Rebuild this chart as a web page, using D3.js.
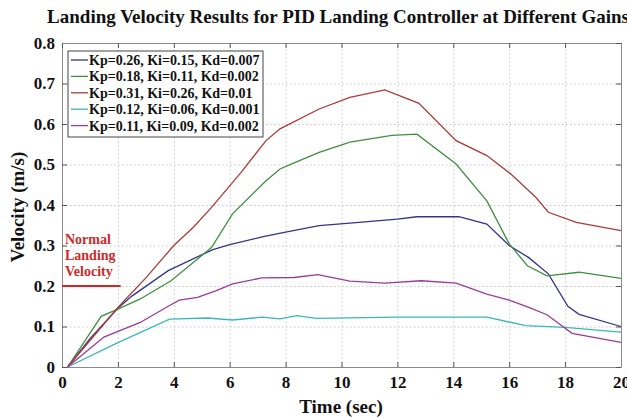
<!DOCTYPE html>
<meta charset="utf-8">
<script src="https://d3js.org/d3.v7.min.js"></script>
<style>
body { margin: 0; background: #fff; }
text { font-family: "Liberation Serif", "Times New Roman", serif; font-weight: bold; }
.grid line { stroke: #c8c8c8; stroke-dasharray: 1.5 2.5; }
.grid path { display: none; }
.axis path { stroke: #8a8a8a; }
.axis line { stroke: #555; }
.axis text { font-size: 17px; fill: #111; }
</style>
<body></body>
<script>
// series labels and colours
var labels = [
  "Kp=0.26, Ki=0.15, Kd=0.007",
  "Kp=0.18, Ki=0.11, Kd=0.002",
  "Kp=0.31, Ki=0.26, Kd=0.01",
  "Kp=0.12, Ki=0.06, Kd=0.001",
  "Kp=0.11, Ki=0.09, Kd=0.002"
];
var colors = ["#34348a", "#3f8f3f", "#ad3a3a", "#3ab8b8", "#9b3a9b"];

// time (sec) / velocity (m/s)
var tBlue = [0.2, 1, 2, 2.5, 3.8, 5.4, 6, 7.2, 8, 9.2, 10.3, 12, 12.7, 14.2, 15.2, 16, 16.7, 17.4, 18.1, 18.5, 20];
var vBlue = [0, 0.07, 0.145, 0.175, 0.238, 0.29, 0.302, 0.322, 0.333, 0.349, 0.355, 0.365, 0.371, 0.371, 0.353, 0.30, 0.27, 0.23, 0.15, 0.13, 0.1];

var tGreen = [0.2, 1.4, 2, 2.8, 3.9, 5.35, 6.1, 7.3, 7.8, 8.2, 9.2, 10.3, 11.8, 12.7, 14.1, 15.2, 16, 16.65, 17.35, 18.5, 20];
var vGreen = [0, 0.125, 0.143, 0.168, 0.213, 0.295, 0.378, 0.46, 0.489, 0.501, 0.53, 0.555, 0.572, 0.575, 0.501, 0.41, 0.304, 0.25, 0.225, 0.234, 0.219];

var tRed = [0.2, 2, 3, 4, 4.7, 5.35, 6.4, 7.3, 7.8, 9.2, 10.3, 11.55, 12.77, 14.1, 15.2, 16.05, 16.95, 17.4, 18.4, 20];
var vRed = [0, 0.147, 0.22, 0.30, 0.345, 0.394, 0.48, 0.559, 0.588, 0.637, 0.666, 0.684, 0.651, 0.559, 0.522, 0.477, 0.419, 0.382, 0.357, 0.337];

var tCyan = [0.2, 2, 3.85, 5.2, 6.1, 7.15, 7.8, 8.4, 9.1, 12, 15.2, 16.6, 18, 20];
var vCyan = [0, 0.06, 0.118, 0.121, 0.116, 0.123, 0.119, 0.127, 0.12, 0.123, 0.123, 0.102, 0.098, 0.086];

var tPurple = [0.2, 1.5, 2.8, 3.8, 4.2, 4.85, 5.5, 6.1, 7.15, 8.3, 9.15, 10.3, 11.55, 12.85, 14.1, 15.2, 16, 16.7, 17.35, 18.25, 20];
var vPurple = [0, 0.074, 0.11, 0.15, 0.165, 0.172, 0.188, 0.205, 0.22, 0.221, 0.228, 0.212, 0.207, 0.213, 0.207, 0.18, 0.165, 0.147, 0.129, 0.083, 0.061];

var xTicks = [0, 2, 4, 6, 8, 10, 12, 14, 16, 18, 20];
var yTicks = [0, 0.1, 0.2, 0.3, 0.4, 0.5, 0.6, 0.7, 0.8];
var normalVelocity = 0.2;

var times = [tBlue, tGreen, tRed, tCyan, tPurple];
var vels = [vBlue, vGreen, vRed, vCyan, vPurple];

var series = labels.map(function(l, i) {
  return { label: l, color: colors[i],
    values: times[i].map(function(t, j) { return { t: t, v: vels[i][j] }; }) };
});

var W = 627, H = 417;
var margin = {top: 43, right: 6, bottom: 50, left: 62};
var width = W - margin.left - margin.right,
    height = H - margin.top - margin.bottom;

var root = d3.select("body").append("svg")
    .attr("width", W)
    .attr("height", H);

var svg = root.append("g")
    .attr("transform", "translate(" + margin.left + "," + margin.top + ")");

var x = d3.scaleLinear().domain([0, 20]).range([0, width]);
var y = d3.scaleLinear().domain([0, 0.8]).range([height, 0]);

// gridlines
svg.append("g").attr("class", "grid")
    .attr("transform", "translate(0," + height + ")")
    .call(d3.axisBottom(x).tickValues(xTicks.slice(1, -1)).tickSize(-height).tickFormat(""));
svg.append("g").attr("class", "grid")
    .call(d3.axisLeft(y).tickValues(yTicks.slice(1, -1)).tickSize(-width).tickFormat(""));

// frame with inward ticks
svg.append("g").attr("class", "axis")
    .attr("transform", "translate(0," + height + ")")
    .call(d3.axisBottom(x).tickValues(xTicks).tickSizeInner(-5).tickSizeOuter(0).tickPadding(9).tickFormat(d3.format("d")));
svg.append("g").attr("class", "axis")
    .call(d3.axisLeft(y).tickValues(yTicks).tickSizeInner(-5).tickSizeOuter(0).tickPadding(7).tickFormat(function(d) { return d === 0 ? "0" : d3.format(".1f")(d); }));
svg.append("g").attr("class", "axis")
    .call(d3.axisTop(x).tickValues(xTicks).tickSizeInner(-5).tickSizeOuter(0).tickFormat(""));
svg.append("g").attr("class", "axis")
    .attr("transform", "translate(" + width + ",0)")
    .call(d3.axisRight(y).tickValues(yTicks).tickSizeInner(-5).tickSizeOuter(0).tickFormat(""));

// normal landing velocity marker
svg.append("line")
    .attr("x1", x(0)).attr("x2", x(2.1))
    .attr("y1", y(normalVelocity)).attr("y2", y(normalVelocity))
    .attr("stroke", "#dd2020").attr("stroke-width", 2);
svg.append("text")
    .attr("x", 3).attr("y", y(normalVelocity) - 42)
    .style("font-size", "14px").style("fill", "#cc2a2a")
    .selectAll("tspan").data(["Normal", "Landing", "Velocity"]).enter().append("tspan")
    .attr("x", 3).attr("dy", function(d, i) { return i ? 16 : 0; })
    .text(function(d) { return d; });

// lines
var line = d3.line().x(function(d) { return x(d.t); }).y(function(d) { return y(d.v); });
svg.selectAll(".series").data(series).enter().append("path")
    .attr("class", "series")
    .attr("fill", "none")
    .attr("stroke", function(d) { return d.color; })
    .attr("stroke-width", 1.3)
    .attr("d", function(d) { return line(d.values); });

// legend
var legend = svg.append("g").attr("transform", "translate(6,8)");
legend.append("rect")
    .attr("width", 195).attr("height", 86)
    .attr("fill", "#fff").attr("stroke", "#444").attr("stroke-width", 1);
var items = legend.selectAll(".item").data(series).enter().append("g")
    .attr("transform", function(d, i) { return "translate(0," + (9 + i * 16.4) + ")"; });
items.append("line")
    .attr("x1", 3).attr("x2", 20)
    .attr("stroke", function(d) { return d.color; }).attr("stroke-width", 1.3);
items.append("text")
    .attr("x", 21).attr("dy", "0.35em")
    .style("font-size", "14px").style("fill", "#111")
    .text(function(d) { return d.label; });

// titles
root.append("text")
    .attr("x", 338).attr("y", 23)
    .attr("text-anchor", "middle")
    .style("font-size", "19px").style("fill", "#111")
    .text("Landing Velocity Results for PID Landing Controller at Different Gains");
root.append("text")
    .attr("x", 341).attr("y", 413)
    .attr("text-anchor", "middle")
    .style("font-size", "19px").style("fill", "#111")
    .text("Time (sec)");
root.append("text")
    .attr("transform", "translate(24,207) rotate(-90)")
    .attr("text-anchor", "middle")
    .style("font-size", "19px").style("fill", "#111")
    .text("Velocity (m/s)");
</script>
